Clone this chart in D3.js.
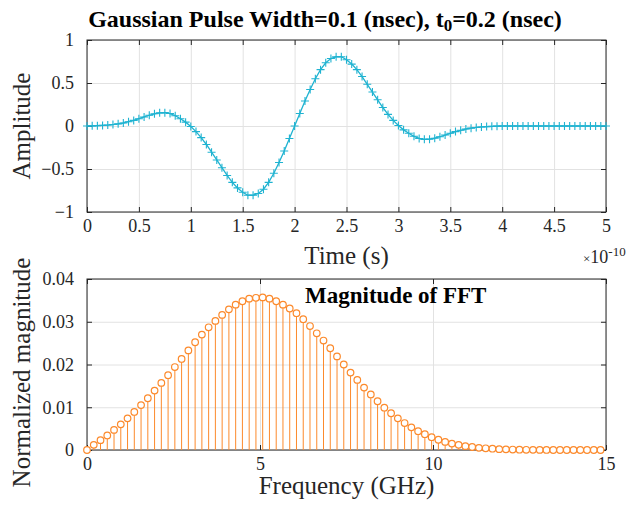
<!DOCTYPE html>
<html>
<head>
<meta charset="utf-8">
<script src="https://cdn.jsdelivr.net/npm/d3@7"></script>
<style>
  body { margin: 0; background: #fff; }
  svg { font-family: "Liberation Serif", "Times New Roman", serif; }
  .grid line { stroke: #e2e2e2; stroke-width: 1; }
  .grid path { display: none; }
  .axis path { display: none; }
  .axis line { stroke: #262626; }
  .axis text { font-size: 18px; fill: #262626; font-family: "Liberation Serif", serif; }
  .axis-label { font-size: 25px; fill: #262626; text-anchor: middle; }
</style>
</head>
<body>
<svg width="629" height="505"></svg>
<script>
// ---- data ----
// time axis in units of 1e-10 s, one sample every 0.05
var timeStep = 0.05;
var pulseValues = [
  0, 0.002, 0.004, 0.007, 0.011, 0.017, 0.025, 0.035, 0.050, 0.065,
  0.085, 0.105, 0.125, 0.142, 0.153, 0.155, 0.145, 0.120, 0.085, 0.045,
  -0.005, -0.065, -0.135, -0.215, -0.305, -0.395, -0.485, -0.575, -0.655, -0.720,
  -0.770, -0.805, -0.805, -0.785, -0.735, -0.655, -0.550, -0.425, -0.290, -0.145,
  0, 0.145, 0.290, 0.425, 0.550, 0.655, 0.735, 0.785, 0.805, 0.805,
  0.770, 0.720, 0.655, 0.575, 0.485, 0.395, 0.305, 0.215, 0.135, 0.065,
  0.005, -0.045, -0.085, -0.120, -0.145, -0.155, -0.153, -0.142, -0.125, -0.105,
  -0.085, -0.065, -0.050, -0.035, -0.025, -0.017, -0.011, -0.007, -0.004, -0.002,
  0, 0, 0, 0, 0, 0, 0, 0, 0, 0,
  0, 0, 0, 0, 0, 0, 0, 0, 0, 0, 0
];
var timeTicks = [0, 0.5, 1, 1.5, 2, 2.5, 3, 3.5, 4, 4.5, 5];
var ampTicks = [-1, -0.5, 0, 0.5, 1];

// FFT bins, GHz spacing of 200/1024
var freqStep = 0.1953;
var magValues = [
  0, 0.0012, 0.0023, 0.0034, 0.0047, 0.0060, 0.0074, 0.0089, 0.0105, 0.0121,
  0.0139, 0.0157, 0.0175, 0.0194, 0.0213, 0.0233, 0.0252, 0.0270, 0.0287, 0.0302,
  0.0316, 0.0329, 0.0340, 0.0348, 0.0354, 0.0356, 0.0357, 0.0354, 0.0348, 0.0340,
  0.0331, 0.0320, 0.0306, 0.0290, 0.0273, 0.0256, 0.0238, 0.0219, 0.0200, 0.0181,
  0.0164, 0.0146, 0.0130, 0.0114, 0.0099, 0.0086, 0.0074, 0.0063, 0.0053, 0.0044,
  0.0037, 0.0030, 0.0024, 0.0019, 0.0015, 0.0012, 0.0009, 0.0007, 0.0005, 0.0004,
  0.0003, 0.0002, 0.00015, 0.0001, 0.00007, 0.00005, 0.00003, 0.00002, 0.00001, 0,
  0, 0, 0, 0, 0, 0, 0
];
var freqTicks = [0, 5, 10, 15];
var magTicks = [0, 0.01, 0.02, 0.03, 0.04];

var pulseColor = '#1fb3d1';
var fftColor = '#fc8a2c';

var svg = d3.select('svg');

// both panels share the same horizontal extent
var plotX = { l: 87, r: 606 };
var topPlot = { t: 40, b: 212 };
var botPlot = { t: 279, b: 450 };
var tickLen = 5;

// ---------------- top panel ----------------
var xTime = d3.scaleLinear().domain([0, 5]).range([plotX.l, plotX.r]);
var yAmp = d3.scaleLinear().domain([-1, 1]).range([topPlot.b, topPlot.t]);

var topG = svg.append('g');

topG.append('g')
    .attr('class', 'grid')
    .attr('transform', `translate(0, ${topPlot.t})`)
    .call(d3.axisTop(xTime).tickValues(timeTicks).tickSize(-(topPlot.b - topPlot.t)).tickFormat(''));
topG.append('g')
    .attr('class', 'grid')
    .attr('transform', `translate(${plotX.l}, 0)`)
    .call(d3.axisLeft(yAmp).tickValues(ampTicks).tickSize(-(plotX.r - plotX.l)).tickFormat(''));

drawFrame(topG, topPlot, xTime, yAmp, timeTicks, ampTicks, d3.format(''), d3.format(''));

var pulse = pulseValues.map((v, i) => ({ t: i * timeStep, v: v }));

var line = d3.line()
    .x(d => xTime(d.t))
    .y(d => yAmp(d.v));

topG.append('path')
    .datum(pulse)
    .attr('fill', 'none')
    .attr('stroke', pulseColor)
    .attr('stroke-width', 1.3)
    .attr('d', line);

// plus markers
var ms = 4;
topG.selectAll('.plus').data(pulse).enter()
    .append('path')
    .attr('class', 'plus')
    .attr('transform', d => `translate(${xTime(d.t)}, ${yAmp(d.v)})`)
    .attr('d', `M${-ms},0H${ms}M0,${-ms}V${ms}`)
    .attr('stroke', pulseColor)
    .attr('stroke-width', 1.1)
    .attr('fill', 'none');

topG.append('text')
    .attr('class', 'axis-label')
    .attr('x', (plotX.l + plotX.r) / 2)
    .attr('y', 264)
    .text('Time (s)');

topG.append('text')
    .attr('class', 'axis-label')
    .attr('transform', `translate(30, ${(topPlot.t + topPlot.b) / 2}) rotate(-90)`)
    .text('Amplitude');

var expo = topG.append('text')
    .attr('x', 583)
    .attr('y', 263)
    .attr('fill', '#262626')
    .style('font-size', '18px');
expo.append('tspan').style('font-size', '13px').text('\u00d7');
expo.append('tspan').text('10');
expo.append('tspan').attr('dy', -7).style('font-size', '13px').text('-10');

var title = svg.append('text')
    .attr('x', 325)
    .attr('y', 27)
    .attr('text-anchor', 'middle')
    .style('font-size', '24px')
    .style('font-weight', 'bold')
    .attr('fill', '#000');
title.append('tspan').text('Gaussian Pulse Width=0.1 (nsec), t');
title.append('tspan').attr('dy', 4).style('font-size', '17px').text('0');
title.append('tspan').attr('dy', -4).text('=0.2 (nsec)');

// ---------------- bottom panel ----------------
var xFreq = d3.scaleLinear().domain([0, 15]).range([plotX.l, plotX.r]);
var yMag = d3.scaleLinear().domain([0, 0.04]).range([botPlot.b, botPlot.t]);

var botG = svg.append('g');

botG.append('g')
    .attr('class', 'grid')
    .attr('transform', `translate(0, ${botPlot.t})`)
    .call(d3.axisTop(xFreq).tickValues(freqTicks).tickSize(-(botPlot.b - botPlot.t)).tickFormat(''));
botG.append('g')
    .attr('class', 'grid')
    .attr('transform', `translate(${plotX.l}, 0)`)
    .call(d3.axisLeft(yMag).tickValues(magTicks).tickSize(-(plotX.r - plotX.l)).tickFormat(''));

drawFrame(botG, botPlot, xFreq, yMag, freqTicks, magTicks, d3.format(''), d3.format('.2~f'));

var spectrum = magValues.map((v, i) => ({ f: i * freqStep, v: v }));

botG.selectAll('.stem').data(spectrum).enter()
    .append('line')
    .attr('class', 'stem')
    .attr('x1', d => xFreq(d.f))
    .attr('x2', d => xFreq(d.f))
    .attr('y1', yMag(0))
    .attr('y2', d => yMag(d.v))
    .attr('stroke', fftColor)
    .attr('stroke-width', 1);

botG.selectAll('.head').data(spectrum).enter()
    .append('circle')
    .attr('class', 'head')
    .attr('cx', d => xFreq(d.f))
    .attr('cy', d => yMag(d.v))
    .attr('r', 3.3)
    .attr('fill', '#fff')
    .attr('stroke', fftColor)
    .attr('stroke-width', 1.2);

botG.append('text')
    .attr('x', 305)
    .attr('y', 303)
    .style('font-size', '23px')
    .style('font-weight', 'bold')
    .attr('fill', '#000')
    .text('Magnitude of FFT');

botG.append('text')
    .attr('class', 'axis-label')
    .attr('x', (plotX.l + plotX.r) / 2)
    .attr('y', 494)
    .text('Frequency (GHz)');

botG.append('text')
    .attr('class', 'axis-label')
    .attr('transform', `translate(30, ${(botPlot.t + botPlot.b) / 2 + 8}) rotate(-90)`)
    .text('Normalized magnitude');

// box with inward ticks on all four sides, labels on left and bottom
function drawFrame(g, p, xs, ys, xt, yt, xf, yf) {
    g.append('g')
        .attr('class', 'axis')
        .attr('transform', `translate(0, ${p.b})`)
        .call(d3.axisBottom(xs).tickValues(xt).tickSizeInner(-tickLen).tickSizeOuter(0).tickPadding(7).tickFormat(xf));
    g.append('g')
        .attr('class', 'axis')
        .attr('transform', `translate(0, ${p.t})`)
        .call(d3.axisTop(xs).tickValues(xt).tickSizeInner(-tickLen).tickSizeOuter(0).tickFormat(''));
    g.append('g')
        .attr('class', 'axis')
        .attr('transform', `translate(${plotX.l}, 0)`)
        .call(d3.axisLeft(ys).tickValues(yt).tickSizeInner(-tickLen).tickSizeOuter(0).tickPadding(13).tickFormat(yf));
    g.append('g')
        .attr('class', 'axis')
        .attr('transform', `translate(${plotX.r}, 0)`)
        .call(d3.axisRight(ys).tickValues(yt).tickSizeInner(-tickLen).tickSizeOuter(0).tickFormat(''));
    g.append('rect')
        .attr('x', plotX.l)
        .attr('y', p.t)
        .attr('width', plotX.r - plotX.l)
        .attr('height', p.b - p.t)
        .attr('fill', 'none')
        .attr('stroke', '#262626')
        .attr('stroke-width', 1);
}
</script>
</body>
</html>
